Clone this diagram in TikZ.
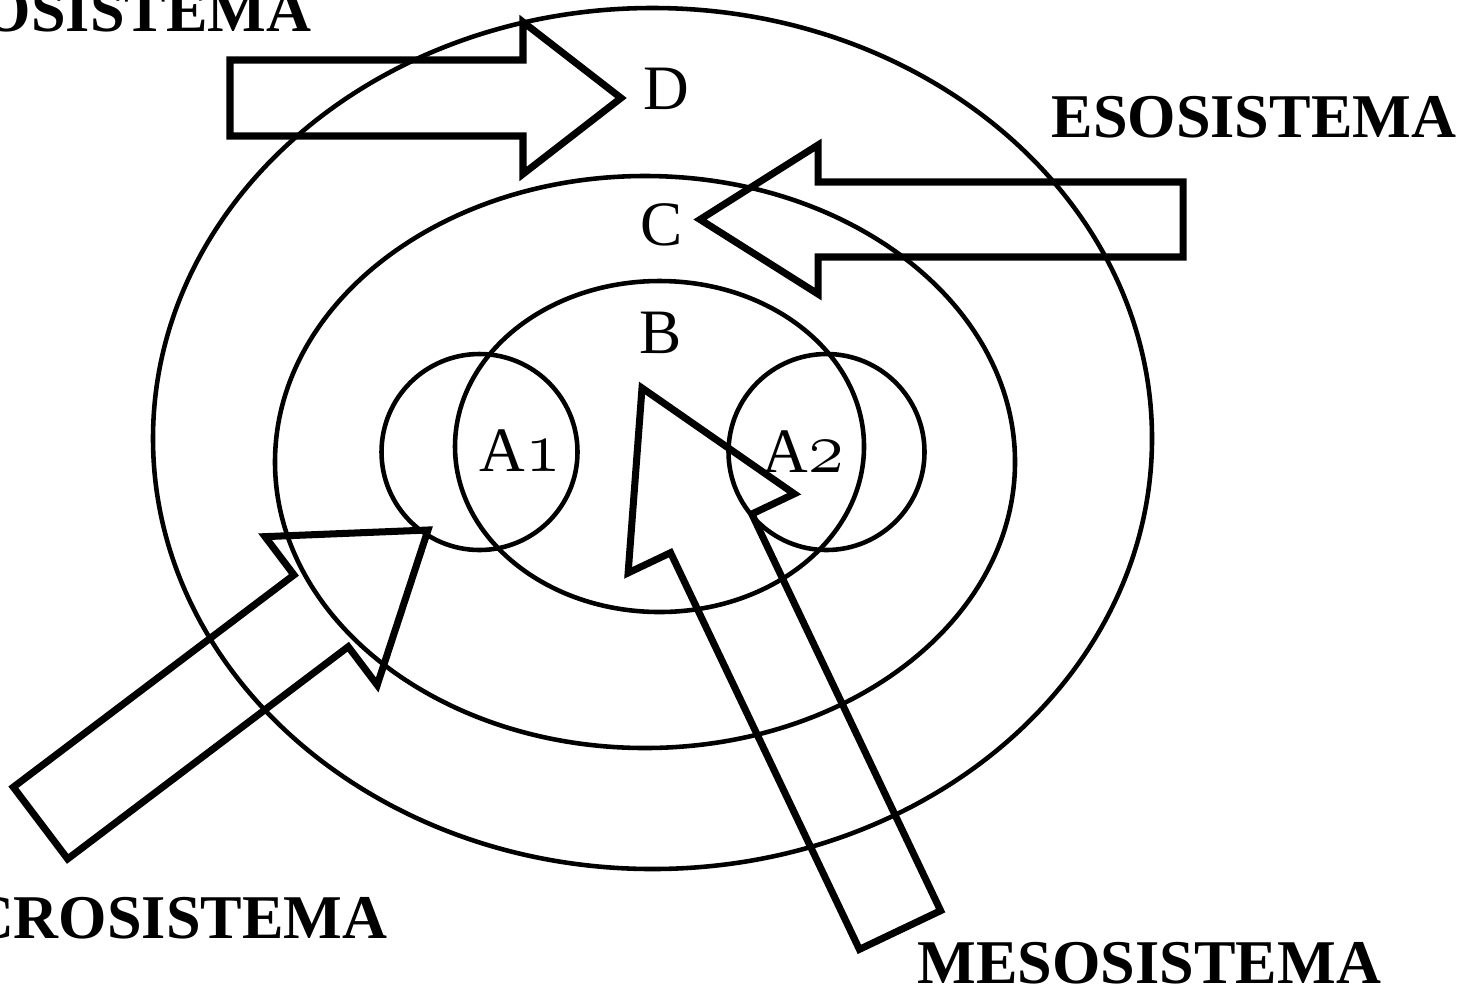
\documentclass[tikz,border=0pt]{standalone}
\usepackage{fontspec}
\usepackage{tikz}
\newfontfamily\sysfont{Liberation Serif}
\usetikzlibrary{
  calc,
  positioning
}
\tikzset{
  ring/.style={draw, line width=1.3pt},
  blockarr/.style={draw, line width=2pt, miter limit=20},
  lettr/.style={font=\sysfont\fontsize{18}{20}\selectfont, inner sep=0pt},
  sysname/.style={font=\sysfont\bfseries\fontsize{17.7}{20}\selectfont, inner sep=0pt}
}
% #1 arrow name, #2 half shaft width, #3 half head width, #4 head length
\newcommand{\blockarrow}[4]{%
  \coordinate (#1-base) at ($(#1-tip)!#4!(#1-tail)$);
  \draw[blockarr]
    ($(#1-tail)!#2!90:(#1-tip)$) -- ($(#1-base)!#2!90:(#1-tip)$) --
    ($(#1-base)!#3!90:(#1-tip)$) -- (#1-tip) --
    ($(#1-base)!#3!-90:(#1-tip)$) -- ($(#1-base)!#2!-90:(#1-tip)$) --
    ($(#1-tail)!#2!-90:(#1-tip)$) -- cycle;
}
\newcommand{\osnum}[1]{{\fontsize{22}{24}\selectfont$\mathnormal{#1}$}}

\begin{document}
\begin{tikzpicture}[x=0.1mm, y=-0.1mm]
  \useasboundingbox (0,0) rectangle (1472,989);
  \clip (0,0) rectangle (1472,989);

  % system rings
  \coordinate (outer) at (652.5,438.5);
  \coordinate (middle) at (645,462);
  \coordinate (inner) at (659.5,446.5);
  \draw[ring] (outer) ellipse [x radius=499.5, y radius=430.5];
  \draw[ring] (middle) ellipse [x radius=370, y radius=286];
  \draw[ring] (inner) ellipse [x radius=204.5, y radius=165.5];
  \draw[ring] (479.5,452) circle [radius=98];
  \draw[ring] (826.5,452) circle [radius=98];

  \node[lettr] (D) at (666,89) {D};
  \node[lettr] (C) at (662,225) {C};
  \node[lettr] (B) at (661,333) {B};
  \node[lettr] (A1) at (520,451) {A\osnum{1}};
  \node[lettr] (A2) at (803,452) {A\osnum{2}};

  \node[sysname, anchor=base east] (macro) at (312,31) {MACROSISTEMA};
  \node[sysname, anchor=base west] (eso) at (1051,137) {ESOSISTEMA};
  \node[sysname, anchor=base east] (micro) at (388,938) {MICROSISTEMA};
  \node[sysname, anchor=base west] (meso) at (917,983) {MESOSISTEMA};

  % block arrows
  \coordinate (macro-tail) at (230,98);
  \coordinate (macro-tip) at (621,98);
  \coordinate (eso-tail) at (1183,219.5);
  \coordinate (eso-tip) at (700,219.5);
  \coordinate (micro-tail) at (40.5,823);
  \coordinate (micro-tip) at (428,530);
  \coordinate (meso-tail) at (900,930);
  \coordinate (meso-tip) at (642,388);
  \foreach \n/\sw/\hw/\hl in {macro/3.8mm/7.6mm/9.8mm, eso/3.75mm/7.45mm/11.8mm,
      micro/4.5mm/9.3mm/13.4mm, meso/4.5mm/9.2mm/16.1mm}
    {\blockarrow{\n}{\sw}{\hw}{\hl}}
\end{tikzpicture}
\end{document}
